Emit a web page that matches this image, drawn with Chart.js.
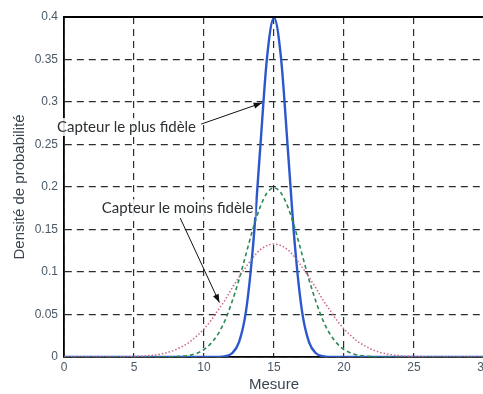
<!DOCTYPE html>
<html>
<head>
<meta charset="utf-8">
<script src="https://cdn.jsdelivr.net/npm/chart.js@4"></script>
<style>
  html, body { margin: 0; padding: 0; background: #fff; overflow: hidden; }
  #wrap { width: 500px; height: 394px; }
</style>
</head>
<body>
<div id="wrap"><canvas id="chart" width="500" height="394"></canvas></div>
<script>
// Mesure (x), pas de 0.5
const mesure = [0,0.5,1,1.5,2,2.5,3,3.5,4,4.5,5,5.5,6,6.5,7,7.5,8,8.5,9,9.5,
  10,10.5,11,11.5,12,12.5,13,13.5,14,14.5,15,15.5,16,16.5,17,17.5,18,18.5,19,19.5,
  20,20.5,21,21.5,22,22.5,23,23.5,24,24.5,25,25.5,26,26.5,27,27.5,28,28.5,29,29.5,30];

// capteur le plus fidèle (bleu)
const plusFidele = [0,0,0,0,0,0,0,0,0,0,0,0,0,0,0,0,0,0,0,0,
  0,0,0.0001,0.0009,0.0044,0.0175,0.054,0.130,0.242,0.352,0.399,0.352,0.242,0.130,0.054,0.0175,0.0044,0.0009,0.0001,0,
  0,0,0,0,0,0,0,0,0,0,0,0,0,0,0,0,0,0,0,0,0];

// capteur intermédiaire (vert)
const moyen = [0,0,0,0,0,0,0,0,0,0,0,0,0,0,0,0,0.0004,0.001,0.0022,0.0045,
  0.0088,0.016,0.027,0.043,0.065,0.091,0.121,0.151,0.176,0.193,0.199,0.193,0.176,0.151,0.121,0.091,0.065,0.043,0.027,0.016,
  0.0088,0.0045,0.0022,0.001,0.0004,0,0,0,0,0,0,0,0,0,0,0,0,0,0,0,0];

// capteur le moins fidèle (rouge)
const moinsFidele = [0,0,0,0,0,0,0,0,0.0001,0.0003,0.0005,0.0009,0.0015,0.0024,0.0038,0.0058,0.0088,0.013,0.018,0.025,
  0.033,0.043,0.055,0.067,0.081,0.094,0.106,0.117,0.126,0.131,0.133,0.131,0.126,0.117,0.106,0.094,0.081,0.067,0.055,0.043,
  0.033,0.025,0.018,0.013,0.0088,0.0058,0.0038,0.0024,0.0015,0.0009,0.0005,0.0003,0.0001,0,0,0,0,0,0,0,0];

const xTicks = [0, 5, 10, 15, 20, 25, 30];
const yTicks = [0, 0.05, 0.1, 0.15, 0.2, 0.25, 0.3, 0.35, 0.4];

const toPts = ys => mesure.map((x, i) => ({ x: x, y: ys[i] }));

// annotations (texte + flèche), en coordonnées données
const notes = [
  { text: 'Capteur le plus fidèle', tx: -0.5, ty: 0.2706, from: [9.8, 0.274], to: [14.15, 0.299] },
  { text: 'Capteur le moins fidèle', tx: 2.7, ty: 0.175, from: [8.3, 0.1635], to: [11.1, 0.064] }
];

const frame = {
  id: 'frame',
  afterDraw(chart) {
    const { ctx, chartArea: a, scales: { x, y } } = chart;
    ctx.save();
    // bord supérieur plein
    ctx.strokeStyle = '#000';
    ctx.lineWidth = 2;
    ctx.beginPath();
    ctx.moveTo(a.left, a.top);
    ctx.lineTo(a.right, a.top);
    ctx.stroke();

    notes.forEach(n => {
      ctx.font = '15px Lato, "Open Sans", sans-serif';
      const px = x.getPixelForValue(n.tx), py = y.getPixelForValue(n.ty);
      const w = ctx.measureText(n.text).width;
      ctx.fillStyle = 'rgba(255,255,255,0.85)';
      ctx.fillRect(px - 2, py - 9, w + 4, 18);
      ctx.fillStyle = '#2b3033';
      ctx.textBaseline = 'middle';
      ctx.fillText(n.text, px, py);

      const x1 = x.getPixelForValue(n.from[0]), y1 = y.getPixelForValue(n.from[1]);
      const x2 = x.getPixelForValue(n.to[0]), y2 = y.getPixelForValue(n.to[1]);
      ctx.strokeStyle = '#111';
      ctx.fillStyle = '#111';
      ctx.lineWidth = 1;
      ctx.beginPath();
      ctx.moveTo(x1, y1);
      ctx.lineTo(x2, y2);
      ctx.stroke();
      const ang = Math.atan2(y2 - y1, x2 - x1);
      ctx.beginPath();
      ctx.moveTo(x2, y2);
      ctx.lineTo(x2 - 9 * Math.cos(ang - 0.35), y2 - 9 * Math.sin(ang - 0.35));
      ctx.lineTo(x2 - 9 * Math.cos(ang + 0.35), y2 - 9 * Math.sin(ang + 0.35));
      ctx.closePath();
      ctx.fill();
    });
    ctx.restore();
  }
};

const tickFont = { family: '"Liberation Sans", Arial, sans-serif', size: 12 };
const titleFont = { family: '"Liberation Sans", Arial, sans-serif', size: 15 };
const fmt = v => String(Math.round(v * 100) / 100);

new Chart(document.getElementById('chart'), {
  type: 'line',
  data: {
    datasets: [
      {
        label: 'moins fidèle',
        data: toPts(moinsFidele),
        borderColor: '#cc6688',
        borderWidth: 1.5,
        borderDash: [1.5, 2],
        pointRadius: 0,
        cubicInterpolationMode: 'monotone'
      },
      {
        label: 'moyen',
        data: toPts(moyen),
        borderColor: '#2a8a52',
        borderWidth: 1.6,
        borderDash: [4, 3],
        pointRadius: 0,
        cubicInterpolationMode: 'monotone'
      },
      {
        label: 'plus fidèle',
        data: toPts(plusFidele),
        borderColor: '#2c58cc',
        borderWidth: 2.4,
        pointRadius: 0,
        cubicInterpolationMode: 'monotone'
      }
    ]
  },
  options: {
    responsive: false,
    animation: false,
    layout: { padding: { top: 17, right: 16, left: 11, bottom: 0 } },
    plugins: { legend: { display: false }, tooltip: { enabled: false } },
    scales: {
      x: {
        type: 'linear',
        min: 0, max: 30,
        afterBuildTicks: s => { s.ticks = xTicks.map(v => ({ value: v })); },
        afterFit: s => { s.height = 37; },
        ticks: { color: '#4a5866', font: tickFont, padding: 3, maxRotation: 0, callback: fmt },
        grid: { color: '#2a2e33', lineWidth: 1.2, drawTicks: false },
        border: { color: '#000', width: 1.8, dash: [7, 5] },
        title: { display: true, text: 'Mesure', color: '#3a4450', font: titleFont, padding: { top: 2, bottom: 0 } }
      },
      y: {
        min: 0, max: 0.4,
        afterBuildTicks: s => { s.ticks = yTicks.map(v => ({ value: v })); },
        afterFit: s => { s.width = 53; },
        ticks: { color: '#4a5866', font: tickFont, padding: 6, callback: fmt },
        grid: { color: '#2a2e33', lineWidth: 1.2, drawTicks: false },
        border: { color: '#000', width: 1.8, dash: [7, 5] },
        title: { display: true, text: 'Densité de probabilité', color: '#3a4450', font: titleFont, padding: { top: 0, bottom: 2 } }
      }
    }
  },
  plugins: [frame]
});
</script>
</body>
</html>
